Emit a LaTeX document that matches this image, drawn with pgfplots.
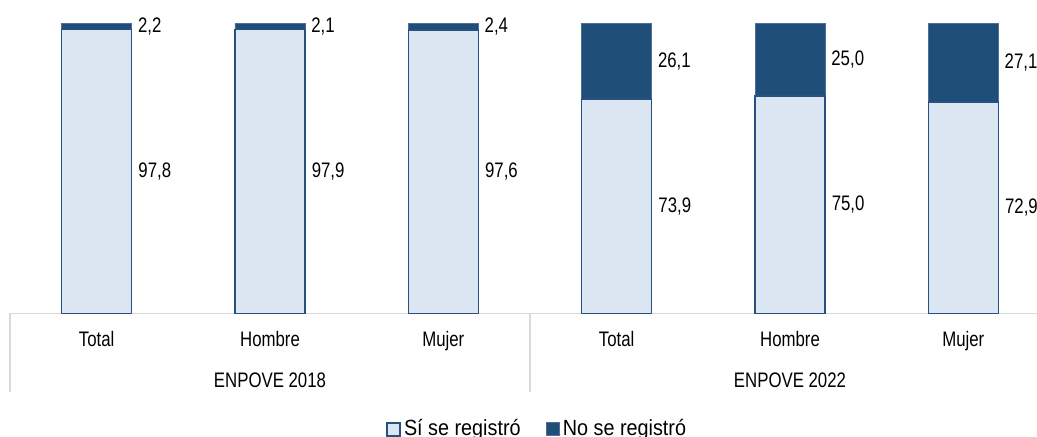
\documentclass[border=0pt]{standalone}
\usepackage{fontspec}
\setmainfont[FakeStretch=0.8]{Liberation Sans}
\newfontfamily\legfont[FakeStretch=0.9]{Liberation Sans}
\usepackage{pgfplots}
\pgfplotsset{compat=1.18}
\definecolor{lightb}{RGB}{220,230,242}
\definecolor{darkb}{RGB}{31,78,121}
\definecolor{edgeb}{RGB}{40,80,128}
\definecolor{edged}{RGB}{80,110,150}
\definecolor{gridg}{RGB}{217,217,217}
\begin{document}
\begin{tikzpicture}
\begin{axis}[
  scale only axis, width=520pt, height=145pt,
  ybar stacked, bar width=35pt,
  xmin=-0.5, xmax=5.5, ymin=0, ymax=100,
  enlarge x limits=false, enlarge y limits=false,
  clip=false,
  axis x line*=bottom, axis y line=none,
  x axis line style={draw=gridg, line width=0.75pt, -},
  xtick={0,1,2,3,4,5},
  xticklabels={Total,Hombre,Mujer,Total,Hombre,Mujer},
  major tick length=0pt,
  xticklabel style={anchor=base, yshift=-16.5pt, font=\fontsize{10.5}{12}\selectfont},
  visualization depends on=rawy \as \rawy,
  nodes near coords={\pgfmathprintnumber[fixed,fixed zerofill,precision=1,use comma,assume math mode=true]{\rawy}},
  every node near coord/.style={anchor=west, inner sep=0pt, font=\fontsize{10.5}{12}\selectfont, xshift=20.5pt},
  legend style={at={(rel axis cs:0.5075,0)}, anchor=center, yshift=-58pt, draw=none, fill=none,
    legend columns=2, font=\legfont\fontsize{11}{13}\selectfont, inner sep=0pt,
    /tikz/every even column/.append style={column sep=11pt},
    nodes={inner xsep=1.6pt, inner ysep=1pt}},
  legend image code/.code={\draw[#1] (0pt,-3.25pt) rectangle (6.5pt,3.25pt);},
]
\addplot[fill=lightb, draw=edgeb, line width=0.75pt] coordinates {(0,97.8) (1,97.9) (2,97.6) (3,73.9) (4,75.0) (5,72.9)};
\addlegendentry{Sí se registró}
\addplot[fill=darkb, draw=edged, line width=0.4pt] coordinates {(0,2.2) (1,2.1) (2,2.4) (3,26.1) (4,25.0) (5,27.1)};
\addlegendentry{No se registró}
\coordinate (O) at (axis cs:-0.5,0);
\draw[gridg, line width=0.75pt] (axis cs:-0.5,0) -- ([yshift=-39.2pt]axis cs:-0.5,0);
\draw[gridg, line width=0.75pt] (axis cs:2.5,0) -- ([yshift=-39.2pt]axis cs:2.5,0);
\draw[gridg, line width=0.75pt] (axis cs:5.5,0) -- ([yshift=-39.2pt]axis cs:5.5,0);
\node[anchor=base, font=\fontsize{10.5}{12}\selectfont] at (axis cs:1,0) [yshift=-37pt] {ENPOVE 2018};
\node[anchor=base, font=\fontsize{10.5}{12}\selectfont] at (axis cs:4,0) [yshift=-37pt] {ENPOVE 2022};
\end{axis}
\pgfresetboundingbox
\path[use as bounding box] ([shift={(-5pt,-61.85pt)}]O) rectangle ([shift={(513.5pt,156.65pt)}]O);
\end{tikzpicture}
\end{document}
